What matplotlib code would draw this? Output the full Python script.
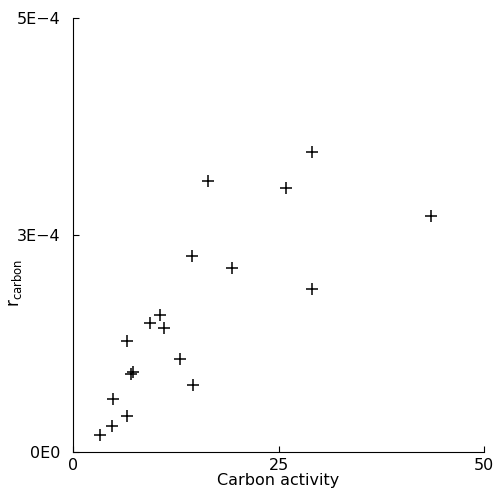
import matplotlib
matplotlib.use('Agg')
import matplotlib.pyplot as plt

# carbon activity vs r_carbon
activity = [3.3, 4.7, 4.9, 6.6, 6.6, 7.1, 7.3, 9.4, 10.6, 11.1, 13.0, 14.6,
            14.5, 16.4, 19.3, 25.9, 29.1, 29.1, 43.6]
r_carbon = [1.9e-5, 2.9e-5, 6.1e-5, 4.1e-5, 1.27e-4, 8.9e-5, 9.2e-5, 1.48e-4,
            1.58e-4, 1.42e-4, 1.07e-4, 7.7e-5, 2.25e-4, 3.12e-4, 2.12e-4,
            3.04e-4, 3.45e-4, 1.88e-4, 2.72e-4]

xticks = [0, 25, 50]
yticks = [0, 2.5e-4, 5e-4]
ytick_labels = ['0E0', '3E\u22124', '5E\u22124']

fig = plt.figure(figsize=(4.97, 4.92), dpi=100)
ax = fig.add_axes([0.147, 0.0823, 0.827, 0.881])

ax.plot(activity, r_carbon, '+', color='black', markersize=9, markeredgewidth=1.1)

ax.set_xlim(0, 50)
ax.set_ylim(0, 5e-4)
ax.set_xticks(xticks)
ax.set_xticklabels([str(t) for t in xticks])
ax.set_yticks(yticks)
ax.set_yticklabels(ytick_labels)
ax.tick_params(direction='in', length=4, width=0.8, labelsize=11.5, pad=9)
ax.tick_params(axis='x', pad=5)

ax.spines['top'].set_visible(False)
ax.spines['right'].set_visible(False)
ax.spines['left'].set_linewidth(0.8)
ax.spines['bottom'].set_linewidth(0.8)

ax.set_xlabel('Carbon activity', fontsize=11.5, labelpad=0)
ax.set_ylabel(r'r$_{\mathregular{carbon}}$', fontsize=12)
ax.yaxis.set_label_coords(-0.12, 0.39)

plt.savefig('out.png', dpi=100)
